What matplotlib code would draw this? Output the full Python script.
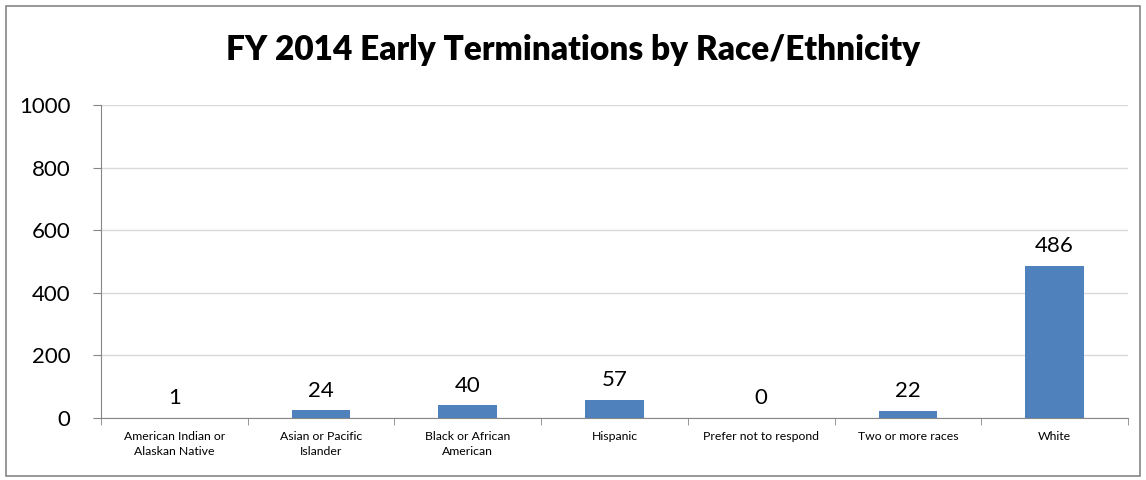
import matplotlib.pyplot as plt
from matplotlib.patches import Rectangle

# Datos
categorias = ["American Indian or\nAlaskan Native", "Asian or Pacific\nIslander",
              "Black or African\nAmerican", "Hispanic", "Prefer not to respond",
              "Two or more races", "White"]
valores = [1, 24, 40, 57, 0, 22, 486]
titulo = "FY 2014 Early Terminations by Race/Ethnicity"

plt.rcParams['font.family'] = ['Lato', 'DejaVu Sans']

fig = plt.figure(figsize=(11.46, 4.8), dpi=100)
ax = fig.add_axes([101/1146, 1 - 418/480, (1128-101)/1146, (418-105)/480])

x = range(len(valores))
barras = ax.bar(x, valores, width=0.4, color='#4F81BD', zorder=3)
ax.bar_label(barras, labels=[str(v) for v in valores], padding=7, fontsize=16)

ax.set_xlim(-0.5, len(valores) - 0.5)
ax.set_ylim(0, 1000)
ax.set_yticks(range(0, 1001, 200))
ax.yaxis.grid(True, color='#D9D9D9', linewidth=1, zorder=0)
ax.tick_params(axis='y', labelsize=16, length=6, color='#868686', pad=16)

# Etiquetas de categoria centradas, ticks entre categorias
ax.set_xticks(list(x))
ax.set_xticklabels(categorias, fontsize=8.8, linespacing=1.45)
ax.tick_params(axis='x', which='major', length=0, pad=9)
ax.set_xticks([i - 0.5 for i in range(len(valores) + 1)], minor=True)
ax.tick_params(axis='x', which='minor', length=5, color='#868686')

for lado in ['top', 'right']:
    ax.spines[lado].set_visible(False)
for lado in ['left', 'bottom']:
    ax.spines[lado].set_color('#868686')

fig.text(0.5, 1 - 50/480, titulo, ha='center', va='center', fontsize=24, fontweight='heavy')

# Borde del grafico
fig.patches.append(Rectangle((6/1146, 4/480), 1134/1146, 470/480, transform=fig.transFigure,
                             fill=False, edgecolor='#868686', linewidth=1.2))

fig.savefig('out.png', dpi=100)
